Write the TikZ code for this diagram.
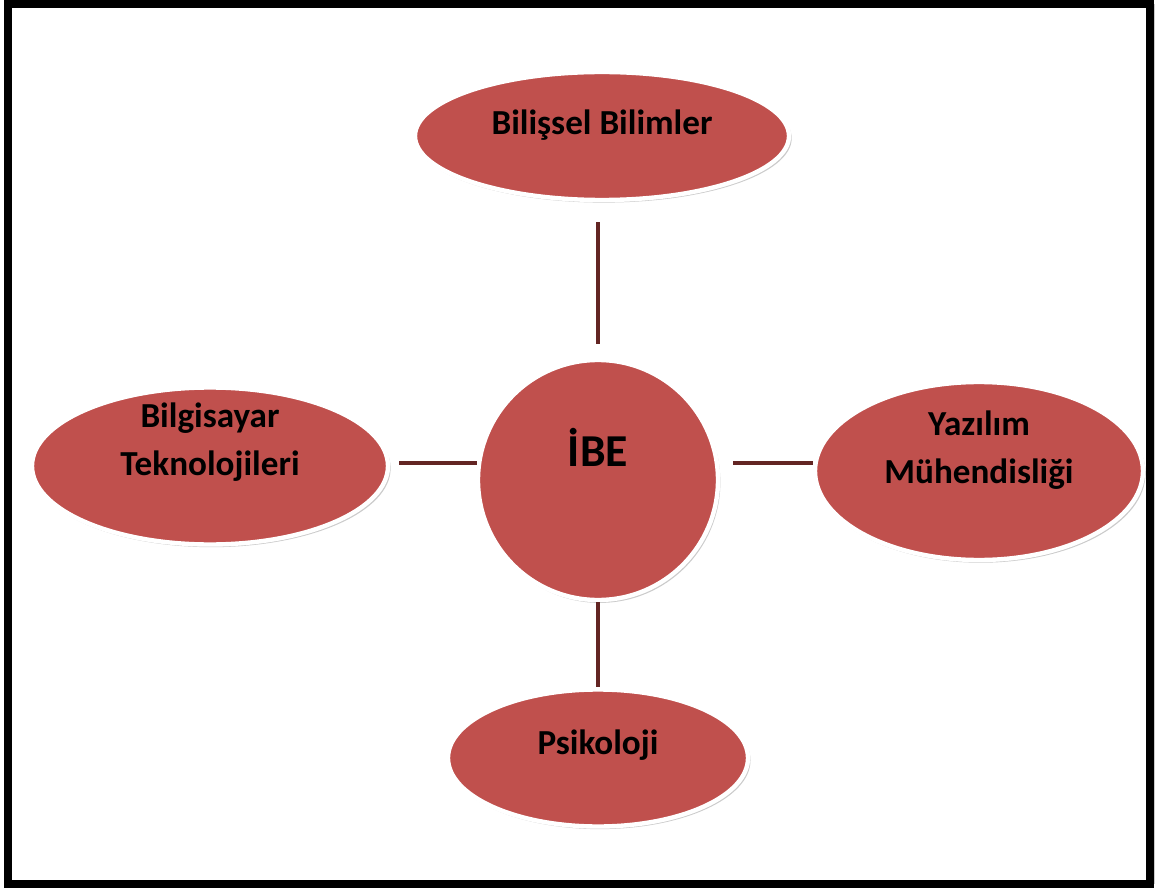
\documentclass[tikz,border=0pt]{standalone}
\usepackage{fontspec}
\setmainfont{Carlito}
\usepackage{xcolor}
\usepackage{tikz}
\usetikzlibrary{shapes.geometric}
\usetikzlibrary{calc,shadows}
\definecolor{konu}{HTML}{C0504D}
\definecolor{bag}{HTML}{632523}
\tikzset{
	alan/.style={
			ellipse, fill=konu, draw=white, line width=2.5pt, inner sep=0pt,
			drop shadow={shadow xshift=1pt, shadow yshift=-1.3pt, shadow scale=1.005, fill=black!40}
		},
	yazi/.style={font=\bfseries\fontsize{20}{27}\selectfont, align=center},
	bag/.style={draw=bag, line width=2.3pt}
}

\begin{document}
\begin{tikzpicture}
			\useasboundingbox (0,0) rectangle (23.18,-17.76);
			\draw[line width=4.5pt, fill=white, drop shadow={shadow xshift=3pt, shadow yshift=0pt, fill=black!40}]
			(0.16,-0.08) rectangle (23.0,-17.68);
			\node[alan, minimum width=7.48cm, minimum height=2.56cm] (bilissel) at (12.04,-2.72) {};
			\node[alan, circle, minimum size=4.8cm] (ibe) at (11.96,-9.6) {};
			\node[alan, minimum width=7.12cm, minimum height=3.14cm] (bilgisayar) at (4.2,-9.32) {};
			\node[alan, minimum width=6.56cm, minimum height=3.56cm] (yazilim) at (19.58,-9.42) {};
			\node[alan, minimum width=6cm, minimum height=2.74cm] (psikoloji) at (11.96,-15.16) {};
			\node[yazi] (bilisselT) at ($(bilissel.center)+(0,0.22)$) {Bilişsel Bilimler};
			\node[yazi, font=\bfseries\fontsize{26}{30}\selectfont] (ibeT) at ($(ibe.center)+(0,0.66)$) {İBE};
			\node[yazi] (bilgisayarT) at ($(bilgisayar.center)+(0,0.48)$) {Bilgisayar\\Teknolojileri};
			\node[yazi] (yazilimT) at ($(yazilim.center)+(0,0.42)$) {Yazılım\\Mühendisliği};
			\node[yazi] (psikolojiT) at ($(psikoloji.center)+(0,0.26)$) {Psikoloji};
			\draw[bag, shorten <=0.4cm, shorten >=0.28cm] (ibe.north |- bilissel.south) -- (ibe.north);
			\draw[bag, shorten <=0.18cm] (bilgisayar.east |- ibe.172) -- (ibe.172);
			\draw[bag, shorten <=0.28cm] (ibe.8) -- (yazilim.west |- ibe.8);
			\draw[bag] (ibe.south) -- (psikoloji.north);
		\end{tikzpicture}
\end{document}
